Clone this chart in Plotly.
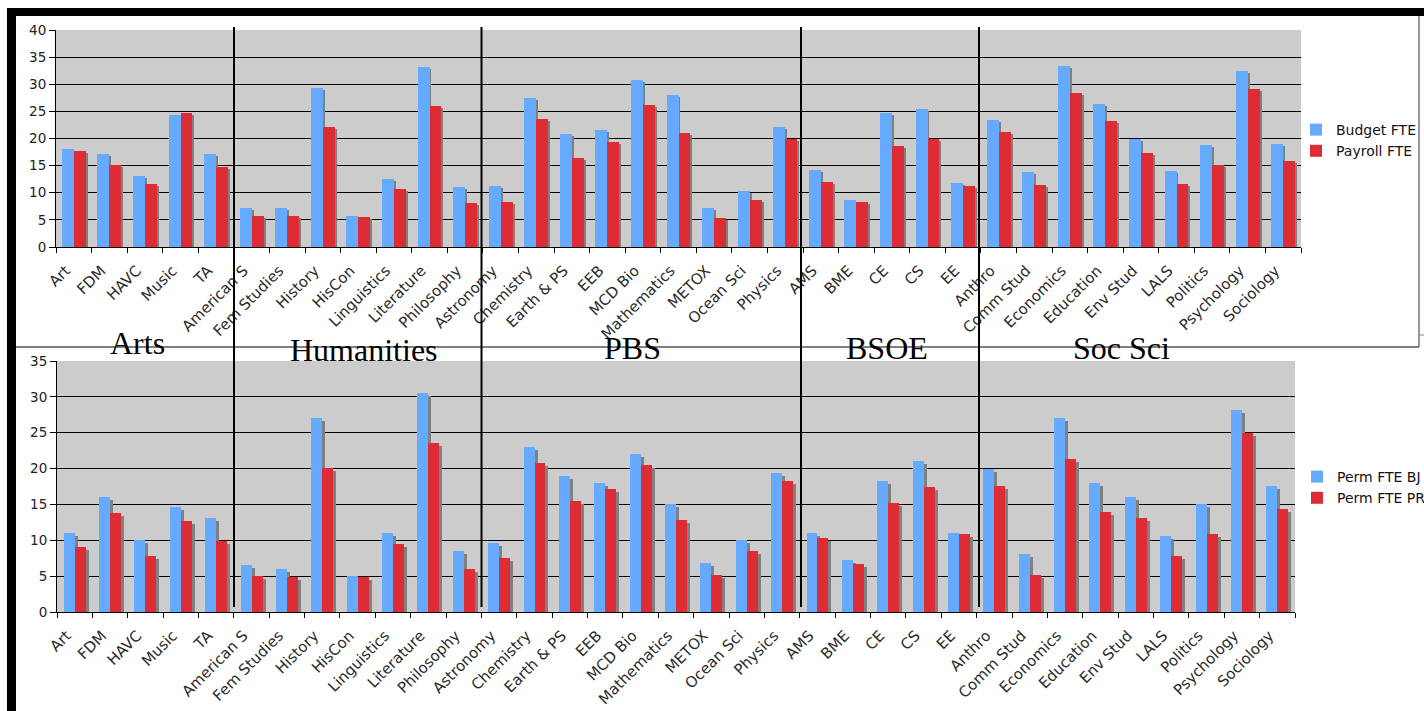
import plotly.graph_objects as go

W, H = 1424, 711

# Departments, grouped by division (left to right)
departments = [
    "Art", "FDM", "HAVC", "Music", "TA",
    "American S", "Fem Studies", "History", "HisCon", "Linguistics", "Literature", "Philosophy",
    "Astronomy", "Chemistry", "Earth & PS", "EEB", "MCD Bio", "Mathematics", "METOX", "Ocean Sci", "Physics",
    "AMS", "BME", "CE", "CS", "EE",
    "Anthro", "Comm Stud", "Economics", "Education", "Env Stud", "LALS", "Politics", "Psychology", "Sociology",
]
divisions = ["Arts", "Humanities", "PBS", "BSOE", "Soc Sci"]

budget_fte = [18.1, 17.2, 13.1, 24.4, 17.2,
              7.2, 7.1, 29.3, 5.8, 12.6, 33.2, 11.1,
              11.3, 27.5, 20.9, 21.6, 30.8, 28.0, 7.2, 10.4, 22.1,
              14.2, 8.7, 24.7, 25.5, 11.8,
              23.4, 13.9, 33.4, 26.4, 19.9, 14.0, 18.8, 32.5, 19.0]
payroll_fte = [17.7, 15.2, 11.7, 24.7, 14.8,
               5.8, 5.8, 22.1, 5.6, 10.7, 26.0, 8.2,
               8.3, 23.6, 16.4, 19.4, 26.2, 21.0, 5.4, 8.7, 19.9,
               12.0, 8.3, 18.7, 19.9, 11.3,
               21.2, 11.5, 28.4, 23.3, 17.4, 11.7, 15.2, 29.1, 15.9]
perm_fte_bj = [11.0, 16.0, 10.0, 14.6, 13.1,
               6.5, 6.0, 27.1, 5.0, 11.0, 30.6, 8.5,
               9.6, 23.0, 19.0, 18.0, 22.0, 15.1, 6.9, 10.0, 19.4,
               11.0, 7.2, 18.3, 21.1, 11.0,
               19.9, 8.1, 27.1, 18.0, 16.0, 10.6, 15.1, 28.1, 17.6]
perm_fte_pr = [9.0, 13.8, 7.8, 12.7, 9.9,
               5.0, 4.9, 20.1, 4.9, 9.5, 23.6, 6.0,
               7.5, 20.8, 15.5, 17.1, 20.5, 12.8, 5.1, 8.5, 18.3,
               10.3, 6.7, 15.2, 17.4, 10.9,
               17.6, 5.1, 21.3, 13.9, 13.1, 7.8, 10.9, 25.0, 14.4]

BLUE = "#66aaff"
RED = "#dd2c34"
SHADOW = "#808080"
FONT = "DejaVu Sans"


def px(x):
    return x / W


def py(y):
    return 1 - y / H


fig = go.Figure()


def add_pair(xa, ya, s1, s2, n1, n2, legend, width, dx, dy):
    # drop shadows first, slightly right and down, then the real bars
    for vals, off in ((s1, -width + dx), (s2, dx)):
        fig.add_trace(go.Bar(x=departments, y=vals, base=-dy, offset=off, width=width,
                             marker=dict(color=SHADOW, line=dict(width=0)),
                             xaxis=xa, yaxis=ya, showlegend=False, hoverinfo="skip"))
    fig.add_trace(go.Bar(x=departments, y=s1, offset=-width, width=width, name=n1,
                         marker=dict(color=BLUE, line=dict(width=0)),
                         xaxis=xa, yaxis=ya, legend=legend))
    fig.add_trace(go.Bar(x=departments, y=s2, offset=0, width=width, name=n2,
                         marker=dict(color=RED, line=dict(width=0)),
                         xaxis=xa, yaxis=ya, legend=legend))


add_pair("x", "y", budget_fte, payroll_fte, "Budget FTE", "Payroll FTE", "legend", 0.335, 0.056, 0.37)
add_pair("x2", "y2", perm_fte_bj, perm_fte_pr, "Perm FTE BJ", "Perm FTE PR", "legend2", 0.31, 0.085, 0.42)

xcommon = dict(type="category", range=[-0.5, len(departments) - 0.5], tickangle=-45,
               ticks="outside", tickson="boundaries", ticklen=5, tickcolor="black",
               showline=True, linecolor="black", linewidth=1, showgrid=False,
               tickfont=dict(family=FONT, size=15, color="#2a2a2a"),
               ticklabelshift=-8, ticklabelstandoff=8)
ycommon = dict(dtick=5, showgrid=True, gridcolor="black", gridwidth=1,
               showline=True, linecolor="black", linewidth=1,
               ticks="outside", ticklen=6, tickcolor="black", zeroline=False,
               tickfont=dict(family=FONT, size=13.5, color="#222"))

fig.update_layout(
    width=W, height=H,
    margin=dict(l=0, r=0, t=0, b=0, autoexpand=False),
    paper_bgcolor="white", plot_bgcolor="#cccccc",
    barmode="overlay", bargap=0,
    xaxis=dict(domain=[px(56), px(1301)], anchor="y", **xcommon),
    yaxis=dict(domain=[py(247), py(30)], range=[0, 40], anchor="x", **ycommon),
    xaxis2=dict(domain=[px(57), px(1295)], anchor="y2", **xcommon),
    yaxis2=dict(domain=[py(612), py(361)], range=[0, 35], anchor="x2", **ycommon),
    legend=dict(x=px(1296), y=py(114), xanchor="left", yanchor="top",
                bgcolor="rgba(0,0,0,0)", font=dict(family=FONT, size=14, color="#111"),
                tracegroupgap=0),
    legend2=dict(x=px(1297), y=py(461), xanchor="left", yanchor="top",
                 bgcolor="rgba(0,0,0,0)", font=dict(family=FONT, size=14, color="#111"),
                 tracegroupgap=0),
    showlegend=True,
)

shapes = []
# heavy black frame on the left and top
shapes.append(dict(type="rect", xref="paper", yref="paper", x0=px(7), x1=px(16), y0=py(711), y1=py(8),
                   fillcolor="black", line=dict(width=0), layer="below"))
shapes.append(dict(type="rect", xref="paper", yref="paper", x0=px(7), x1=px(1424), y0=py(16), y1=py(8),
                   fillcolor="black", line=dict(width=0), layer="below"))
# thin outline of the upper chart box
shapes.append(dict(type="line", xref="paper", yref="paper", x0=px(16), x1=px(1419), y0=py(347), y1=py(347),
                   line=dict(color="black", width=1), layer="below"))
shapes.append(dict(type="line", xref="paper", yref="paper", x0=px(1419), x1=px(1419), y0=py(347), y1=py(16),
                   line=dict(color="#333", width=1), layer="below"))
shapes.append(dict(type="line", xref="paper", yref="paper", x0=px(1419), x1=px(1424), y0=py(335), y1=py(335),
                   line=dict(color="#888", width=1), layer="below"))
# division separators running through both charts
for xs in (234, 481.5, 801, 979):
    shapes.append(dict(type="line", xref="paper", yref="paper", x0=px(xs), x1=px(xs), y0=py(607), y1=py(27),
                       line=dict(color="black", width=2), layer="above"))
fig.update_layout(shapes=shapes)

# division names between the two charts
div_pos = [(137, 343), (364, 350), (632, 348), (887, 348), (1121, 348)]
for name, (cx, cy) in zip(divisions, div_pos):
    fig.add_annotation(text=name, xref="paper", yref="paper", x=px(cx), y=py(cy),
                       xanchor="center", yanchor="middle", showarrow=False,
                       font=dict(family="Liberation Serif", size=32, color="black"))

fig.write_html("out.html")
